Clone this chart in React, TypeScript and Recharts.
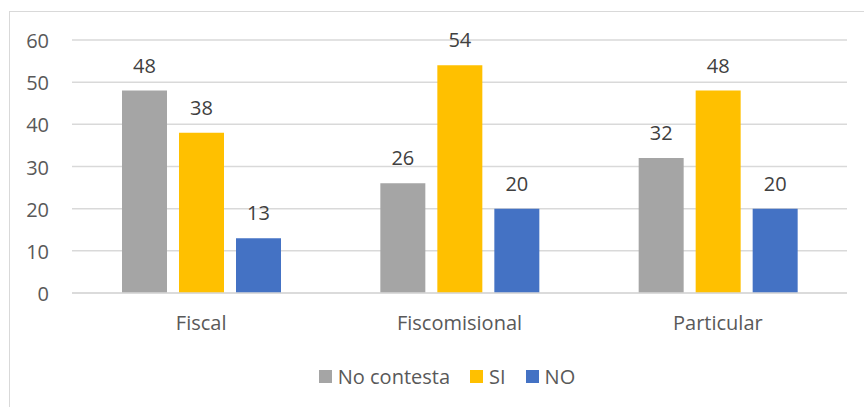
import { BarChart, Bar, XAxis, YAxis, CartesianGrid, Legend, LabelList } from "recharts";

const categories = ["Fiscal", "Fiscomisional", "Particular"];
const noContesta = [48, 26, 32];
const si = [38, 54, 48];
const no = [13, 20, 20];
const yTicks = [0, 10, 20, 30, 40, 50, 60];

const series = [
  { key: "noContesta", name: "No contesta", color: "#A5A5A5" },
  { key: "si", name: "SI", color: "#FFC000" },
  { key: "no", name: "NO", color: "#4472C4" },
];

const data = categories.map((name, i) => ({
  name,
  noContesta: noContesta[i],
  si: si[i],
  no: no[i],
}));

const FONT = "'Open Sans', 'Noto Sans', sans-serif";
const TEXT = "#595959";
const SIZE = 20;

function LegendRow() {
  return (
    <div
      style={{
        display: "flex",
        justifyContent: "center",
        alignItems: "center",
        fontFamily: FONT,
        fontSize: SIZE,
        color: TEXT,
      }}
    >
      {series.map((s, i) => (
        <div
          key={s.key}
          style={{ display: "flex", alignItems: "center", marginLeft: i === 0 ? 0 : 20 }}
        >
          <span style={{ width: 13, height: 13, background: s.color, marginRight: 6, display: "inline-block" }} />
          <span>{s.name}</span>
        </div>
      ))}
    </div>
  );
}

export default function App() {
  return (
    <div style={{ position: "absolute", left: 0, top: 0, width: 864, height: 407, background: "#fff", overflow: "hidden" }}>
      <div
        style={{
          position: "absolute",
          left: 9,
          top: 11,
          width: 900,
          height: 450,
          borderTop: "1px solid #D9D9D9",
          borderLeft: "1px solid #D9D9D9",
        }}
      />
      <BarChart
        width={864}
        height={407}
        data={data}
        margin={{ top: 40, right: 17, left: 22, bottom: 84 }}
        barSize={45}
        barGap={12}
        style={{ position: "absolute", left: 0, top: 0 }}
      >
        <CartesianGrid vertical={false} stroke="#D9D9D9" strokeWidth={1.5} />
        <XAxis
          dataKey="name"
          axisLine={{ stroke: "#D9D9D9", strokeWidth: 1.5 }}
          tickLine={false}
          tickSize={0}
          tickMargin={23}
          height={30}
          tick={{ fill: TEXT, fontSize: SIZE, fontFamily: FONT }}
        />
        <YAxis
          domain={[0, 60]}
          ticks={yTicks}
          axisLine={false}
          tickLine={false}
          tickSize={0}
          tickMargin={23}
          width={50}
          tick={{ fill: TEXT, fontSize: SIZE, fontFamily: FONT, dy: 1 }}
        />
        <Legend
          verticalAlign="middle"
          align="center"
          wrapperStyle={{ top: 363, left: 15, width: 864 }}
          content={() => <LegendRow />}
        />
        {series.map((s) => (
          <Bar key={s.key} dataKey={s.key} name={s.name} fill={s.color} isAnimationActive={false}>
            <LabelList
              dataKey={s.key}
              position="top"
              offset={18}
              fill="#404040"
              fontSize={SIZE}
              fontFamily={FONT}
            />
          </Bar>
        ))}
      </BarChart>
    </div>
  );
}
